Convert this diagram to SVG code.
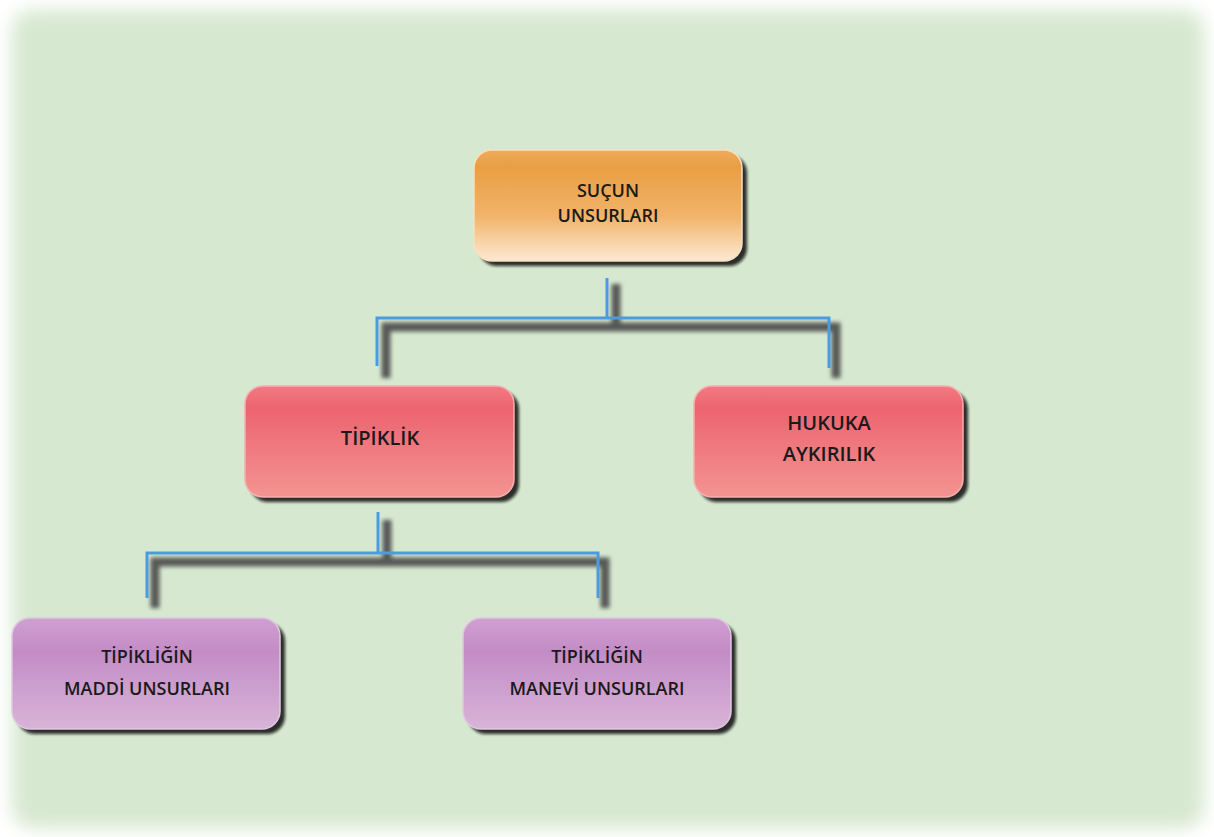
<svg xmlns="http://www.w3.org/2000/svg" width="1214" height="837" viewBox="0 0 1214 837">
  <defs>
    <filter id="bgblur" x="-5%" y="-5%" width="110%" height="110%">
      <feGaussianBlur stdDeviation="9"/>
    </filter>
    <filter id="shadowblur" x="-20%" y="-20%" width="140%" height="140%">
      <feGaussianBlur stdDeviation="2.2"/>
    </filter>
    <filter id="boxshadow" x="-10%" y="-10%" width="130%" height="130%">
      <feGaussianBlur stdDeviation="1.8"/>
    </filter>
    <linearGradient id="gOrange" x1="0" y1="0" x2="0" y2="1">
      <stop offset="0" stop-color="#eeac5c"/>
      <stop offset="0.15" stop-color="#e99e42"/>
      <stop offset="0.6" stop-color="#f1b46a"/>
      <stop offset="1" stop-color="#fde9d4"/>
    </linearGradient>
    <linearGradient id="gRed" x1="0" y1="0" x2="0" y2="1">
      <stop offset="0" stop-color="#f27a82"/>
      <stop offset="0.2" stop-color="#ec6470"/>
      <stop offset="1" stop-color="#f39490"/>
    </linearGradient>
    <linearGradient id="gPurple" x1="0" y1="0" x2="0" y2="1">
      <stop offset="0" stop-color="#cfa0d2"/>
      <stop offset="0.3" stop-color="#c38cc6"/>
      <stop offset="1" stop-color="#d8b4d8"/>
    </linearGradient>
  </defs>
  <style>
    .lbl { font-family: "Open Sans", "Liberation Sans", sans-serif; font-weight: 600; fill: #1a1a1a; text-anchor: middle; }
    .shadow { fill: #111111; opacity: 0.85; filter: url(#boxshadow); }
    .conn-sh { fill: none; stroke: #4a4a4a; stroke-width: 9; filter: url(#shadowblur); opacity: 0.9; }
    .conn { fill: none; stroke: #4a9be2; stroke-width: 3; }
  </style>

  <rect x="0" y="0" width="1214" height="837" fill="#ffffff"/>
  <rect x="12" y="10" width="1192" height="818" rx="20" fill="#d7e8d0" filter="url(#bgblur)"/>

  <g id="connectors">
    <path class="conn-sh" d="M616 284 V327 M386 378 V327 H836 V378"/>
    <path class="conn" d="M607 278 V318 M377 366 V318 H829 V368"/>
    <path class="conn-sh" d="M387 520 V562 M155 608 V562 H605 V608"/>
    <path class="conn" d="M378 512 V553 M147 598 V553 H598 V598"/>
  </g>

  <g id="node-sucun">
    <rect class="shadow" x="479" y="155" width="268" height="111" rx="18"/>
    <rect x="474" y="150" width="268" height="111" rx="18" fill="url(#gOrange)" stroke="#f8e0c0" stroke-width="1.5"/>
    <text class="lbl" x="608" y="197" font-size="18">SUÇUN</text>
    <text class="lbl" x="608" y="222" font-size="18">UNSURLARI</text>
  </g>

  <g id="node-tipiklik">
    <rect class="shadow" x="250" y="391" width="269" height="111" rx="18"/>
    <rect x="245" y="386" width="269" height="111" rx="18" fill="url(#gRed)" stroke="#f5b0b0" stroke-width="1.5"/>
    <text class="lbl" x="380" y="445" font-size="20">TİPİKLİK</text>
  </g>

  <g id="node-hukuka">
    <rect class="shadow" x="699" y="391" width="269" height="111" rx="18"/>
    <rect x="694" y="386" width="269" height="111" rx="18" fill="url(#gRed)" stroke="#f5b0b0" stroke-width="1.5"/>
    <text class="lbl" x="829" y="430" font-size="20">HUKUKA</text>
    <text class="lbl" x="829" y="461" font-size="20">AYKIRILIK</text>
  </g>

  <g id="node-maddi">
    <rect class="shadow" x="17" y="623" width="268" height="111" rx="18"/>
    <rect x="12" y="618" width="268" height="111" rx="18" fill="url(#gPurple)" stroke="#e0c8e0" stroke-width="1.5"/>
    <text class="lbl" x="147" y="663" font-size="18">TİPİKLİĞİN</text>
    <text class="lbl" x="147" y="695" font-size="18">MADDİ UNSURLARI</text>
  </g>

  <g id="node-manevi">
    <rect class="shadow" x="468" y="623" width="268" height="111" rx="18"/>
    <rect x="463" y="618" width="268" height="111" rx="18" fill="url(#gPurple)" stroke="#e0c8e0" stroke-width="1.5"/>
    <text class="lbl" x="597" y="663" font-size="18">TİPİKLİĞİN</text>
    <text class="lbl" x="597" y="695" font-size="18">MANEVİ UNSURLARI</text>
  </g>
</svg>
